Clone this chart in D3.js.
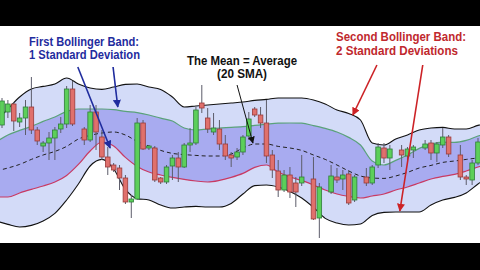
<!DOCTYPE html>
<html>
<head>
<meta charset="utf-8">
<script src="https://cdn.jsdelivr.net/npm/d3@7"></script>
<style>
  body { margin: 0; background: #000; }
  svg { display: block; }
</style>
</head>
<body>
<script>
// candles: index, open, high, low, close
let candleIdx = [0,1,2,3,4,5,6,7,8,9,10,11,12,14,15,16,17,18,19,20,21,22,23,24,25,26,27,28,29,30,31,32,33,34,35,36,37,38,39,40,41,42,43,44,45,46,47,48,49,50,51,53,54,56,57,58,59,60,62,63,64,65,66,68,69,70,72,73,74,75,76,78,79,80,81];
let opens  = [57.5,64,68,59,61,66.5,55,47,48.5,51,55.5,58,75.5,55.5,50,64,51.5,41.5,37.5,36,31,19,20.5,58.5,46,46,31,29,37,41,36.5,47.5,48.5,68.5,61,54,55.5,48,42.5,41.5,44,52,65.5,62.5,58.5,42.5,34.5,25,32.5,28.5,28.5,30.5,11,24,31.5,30.5,33,20,31.5,28.5,37.5,46,41,45,42,45,46,48.5,43.5,47.5,51.5,42.5,31.5,30,38.5];
let highs  = [71,70,69,63.5,70,81.5,56.5,49.5,54,56.5,61.5,77,79.5,56.5,67.5,67.5,55,46.5,38.5,37.5,32.5,22.5,61,60,47.5,47,31.5,37.5,42.5,44,48.5,56,66.5,77.5,66,63.5,60,52.5,44,46,52.5,64,66.5,66.5,70,45,40,35,36.5,31.5,42.5,41.5,28.5,37.5,36,35,35,32.5,36,37.5,48.5,48.5,47.5,47.5,46.5,47.5,50,50,49,56,52.5,47.5,32.5,40,51];
let lows   = [56,61,54.5,56.5,52.5,53,47.5,44,40,40,53.5,56,57,47.5,49,45,40,32.5,34,25,18,11,20,45,45,29,28,28,30,29,36,44,47.5,63.5,53.5,52.5,45,40,36.5,40,42.5,50,61.5,56,38.5,31,21.5,24,21,16.5,27,10,1,23,28.5,25,17.5,19,27,27.5,36,38.5,35,36.5,40,41,45,40,39,46,41.5,30,27.5,27.5,37.5];
let closes = [69.5,68,59.5,61,66.5,55,49.5,48.5,51,55,58,75.5,58,50,64,54,41.5,36.5,35,31,19,20.5,58.5,45.5,47,30,29,36.5,41,36.5,47.5,48.5,65,66,55.5,56,48,42,41,44,51.5,60.5,62.5,58.5,42,35,25,32.5,24,24,31.5,10.5,26.5,32,30,32.5,18.5,31.5,28.5,36.5,46.5,41,45.5,42.5,45.5,46.5,48,43.5,48,51.5,43,31.5,30.5,38.5,49];

// bands sampled every 2 periods
let bandIdx    = [-1,1,3,5,7,9,11,13,15,17,19,21,23,25,27,29,31,33,35,37,39,41,43,45,47,49,51,53,55,57,59,61,63,65,67,69,71,73,75,77,79,81,83];
let outerUpper = [59.5,65.5,71.5,75.5,76.8,78,81,78,76,75.3,76.5,77.8,78,76.5,75.3,71.5,66.5,67,67.5,68,68.5,69,69.8,70.3,71,71,71,70,68,65,63.3,60,48.5,47.5,50.5,52.5,55,56,56.3,55.5,55.5,57.3,58.5];
let innerUpper = [49,52.5,54.8,56.8,59.3,61.5,64.3,65.5,65.5,65.5,65.2,64.3,63.7,62.5,60.9,59.5,56,55,55.5,56,56.3,56.7,57.3,57.9,58.4,58.5,58.4,57.2,55.8,54,51.3,47.5,39.5,37.5,39.8,42.5,45.8,48,48.9,48.8,49.8,52,54];
let sma20      = [34.5,36,37.8,40.3,42.5,44.3,46.8,50.5,52.3,53.5,54,52.5,49.3,47,44.8,43.3,42.7,42.3,42,42,43,46,48,48,46.8,46,44.8,42.5,40.3,37.5,34.5,32,31,30.8,32,33.8,36,37.3,38.8,39.5,40.3,41,41.5];
let innerLower = [21.5,21.5,23.5,25.3,27,29,32.3,37.8,44.5,49,47,41.3,36.8,34,32.5,31.3,30.3,29.5,29,29.8,31.3,33.3,36.3,37.5,34,31.5,29.8,27.5,25,23,21.8,21,22,23,25,26.5,28.5,30.5,31.8,32.8,34.5,36.5,38.5];
let outerLower = [9.5,7.8,6.5,7.3,9.5,13.3,20,28,37,40.3,35.5,25.3,20.7,20,17.5,16,16.5,16.8,16.5,16.5,18.3,23,27.2,27.5,26.5,24.3,21,16.3,10.8,8.5,7.5,8,12.3,13.8,14,14,14,17.5,20,21.3,23.5,28,32];

let labels = [
  {lines:["First Bollinger Band:","1 Standard Deviation"], x:29, y:[46,59], w:[110,111], color:"#1f2c9e", anchor:"start"},
  {lines:["The Mean = Average","(20 SMA)"], x:242, y:[65,78], w:[110,50], color:"#111", anchor:"middle"},
  {lines:["Second Bollinger Band:","2 Standard Deviations"], x:336, y:[41,55], w:[130,122], color:"#c0282d", anchor:"start"}
];

// arrows: [index, value] from -> to
let arrows = [
  {from:[12.9,86.5], to:[18.4,46], color:"#1f2c9e", w:1.6},
  {from:[18.9,86.5], to:[19.7,66.5], color:"#1f2c9e", w:1.6},
  {from:[40,77.5], to:[42.7,48.5], color:"#111", w:1},
  {from:[63.8,87.5], to:[59.7,62.5], color:"#cc2226", w:1.6},
  {from:[71.6,87.5], to:[67.7,14.5], color:"#cc2226", w:1.6}
];

let W = 480, H = 270;
let x = d3.scaleLinear().domain([0,81]).range([2,478]);
let y = d3.scaleLinear().domain([0,100]).range([240,40]);

let svg = d3.select("body").append("svg").attr("width",W).attr("height",H);

svg.append("rect").attr("width",W).attr("height",H).attr("fill","#000");
svg.append("rect").attr("x",0).attr("y",26).attr("width",W).attr("height",217).attr("fill","#fff");

let bands = bandIdx.map((d,i)=>({i:d, ou:outerUpper[i], iu:innerUpper[i], m:sma20[i], il:innerLower[i], ol:outerLower[i]}));
let curve = d3.curveMonotoneX;

svg.append("defs").append("clipPath").attr("id","plot")
  .append("rect").attr("x",0).attr("y",26).attr("width",W).attr("height",217);

let g = svg.append("g").attr("clip-path","url(#plot)");

g.append("path").datum(bands)
  .attr("fill","#d3dbf8")
  .attr("d", d3.area().curve(curve).x(d=>x(d.i)).y0(d=>y(d.ol)).y1(d=>y(d.ou)));

g.append("path").datum(bands)
  .attr("fill","#a8abf0")
  .attr("d", d3.area().curve(curve).x(d=>x(d.i)).y0(d=>y(d.il)).y1(d=>y(d.iu)));

let lineOf = key => d3.line().curve(curve).x(d=>x(d.i)).y(d=>y(d[key]));

g.append("path").datum(bands).attr("fill","none").attr("stroke","#5aa27a").attr("stroke-width",1.2).attr("d",lineOf("iu"));
g.append("path").datum(bands).attr("fill","none").attr("stroke","#c93a63").attr("stroke-width",1.2).attr("d",lineOf("il"));
g.append("path").datum(bands).attr("fill","none").attr("stroke","#222").attr("stroke-width",1).attr("stroke-dasharray","4,3").attr("d",lineOf("m"));
g.append("path").datum(bands).attr("fill","none").attr("stroke","#111").attr("stroke-width",1.1).attr("d",lineOf("ou"));
g.append("path").datum(bands).attr("fill","none").attr("stroke","#111").attr("stroke-width",1.1).attr("d",lineOf("ol"));

let candles = candleIdx.map((d,i)=>({i:d, o:opens[i], h:highs[i], l:lows[i], c:closes[i]}));
let bw = (x(1)-x(0))*0.78;

g.selectAll("line.wick")
  .data(candles)
  .enter().append("line")
    .attr("class","wick")
    .attr("x1",d=>x(d.i)).attr("x2",d=>x(d.i))
    .attr("y1",d=>y(d.h)).attr("y2",d=>y(d.l))
    .attr("stroke","#5c5c6a")
    .attr("stroke-width",1);

g.selectAll("rect.body")
  .data(candles)
  .enter().append("rect")
    .attr("class","body")
    .attr("x",d=>x(d.i)-bw/2)
    .attr("width",bw)
    .attr("y",d=>y(Math.max(d.o,d.c)))
    .attr("height",d=>Math.max(1.5, Math.abs(y(d.o)-y(d.c))))
    .attr("fill",d=> d.c>=d.o ? "#5ccf5a" : "#e0706c")
    .attr("stroke",d=> d.c>=d.o ? "#2f7d3a" : "#9a3b3b")
    .attr("stroke-width",0.8);

let defs = svg.select("defs");
arrows.forEach((a,k)=>{
  defs.append("marker")
    .attr("id","head"+k)
    .attr("viewBox","0 0 10 10")
    .attr("refX",9).attr("refY",5)
    .attr("markerWidth",a.w>1.2 ? 5 : 7).attr("markerHeight",a.w>1.2 ? 5 : 7)
    .attr("markerUnits","strokeWidth")
    .attr("orient","auto")
    .append("path").attr("d","M0,0L10,5L0,10z").attr("fill",a.color);
});

svg.selectAll("line.arrow")
  .data(arrows)
  .enter().append("line")
    .attr("class","arrow")
    .attr("x1",d=>x(d.from[0])).attr("y1",d=>y(d.from[1]))
    .attr("x2",d=>x(d.to[0])).attr("y2",d=>y(d.to[1]))
    .attr("stroke",d=>d.color)
    .attr("stroke-width",d=>d.w)
    .attr("marker-end",(d,k)=>"url(#head"+k+")");

labels.forEach(lb=>{
  lb.lines.forEach((t,j)=>{
    svg.append("text")
      .attr("x",lb.x)
      .attr("y",lb.y[j])
      .attr("font-family","Liberation Sans, Arial, sans-serif")
      .attr("font-weight","bold")
      .attr("font-size","12.5")
      .attr("fill",lb.color)
      .attr("text-anchor",lb.anchor)
      .attr("textLength",lb.w[j])
      .attr("lengthAdjust","spacingAndGlyphs")
      .text(t);
  });
});
</script>
</body>
</html>
